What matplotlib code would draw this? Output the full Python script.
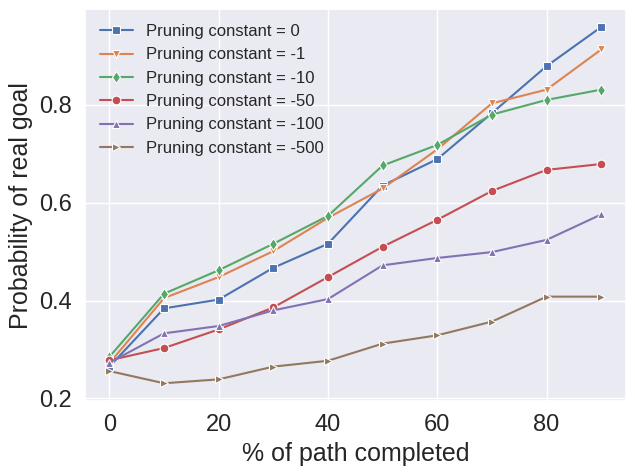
import numpy as np
import matplotlib
matplotlib.use("Agg")
import matplotlib.pyplot as plt
import seaborn as sns

sns.set_theme(style="darkgrid")
plt.rcParams['font.family'] = ['Liberation Sans', 'DejaVu Sans']

pct_done = [0, 10, 20, 30, 40, 50, 60, 70, 80, 90]
prune_labels = ["0", "-1", "-10", "-50", "-100", "-500"]
markers = ["s", "v", "d", "o", "^", ">"]

p_0 = [0.265, 0.384, 0.402, 0.467, 0.516, 0.635, 0.689, 0.783, 0.879, 0.959]
p_1 = [0.272, 0.405, 0.448, 0.501, 0.569, 0.629, 0.709, 0.803, 0.831, 0.913]
p_10 = [0.285, 0.414, 0.462, 0.516, 0.573, 0.676, 0.718, 0.780, 0.810, 0.831]
p_50 = [0.278, 0.303, 0.341, 0.386, 0.448, 0.510, 0.565, 0.624, 0.667, 0.679]
p_100 = [0.273, 0.333, 0.348, 0.380, 0.403, 0.472, 0.487, 0.499, 0.524, 0.576]
p_500 = [0.256, 0.231, 0.239, 0.265, 0.277, 0.312, 0.329, 0.357, 0.408, 0.408]

series = [p_0, p_1, p_10, p_50, p_100, p_500]
colors = sns.color_palette("deep")

fig, ax = plt.subplots(figsize=(6.35, 4.75), dpi=100)

for i, vals in enumerate(series):
    ax.plot(pct_done, vals, marker=markers[i], color=colors[i], markersize=6.3,
            markeredgecolor="white", markeredgewidth=0.8, linewidth=1.5,
            label="Pruning constant = " + prune_labels[i])

ax.set_xlabel("% of path completed", fontsize=18)
ax.set_ylabel("Probability of real goal", fontsize=18)
ax.tick_params(labelsize=17)
ax.set_yticks([0.2, 0.4, 0.6, 0.8])
ax.legend(fontsize=12, frameon=False, loc="upper left")

plt.tight_layout(pad=0.55)
plt.savefig("out.png")
